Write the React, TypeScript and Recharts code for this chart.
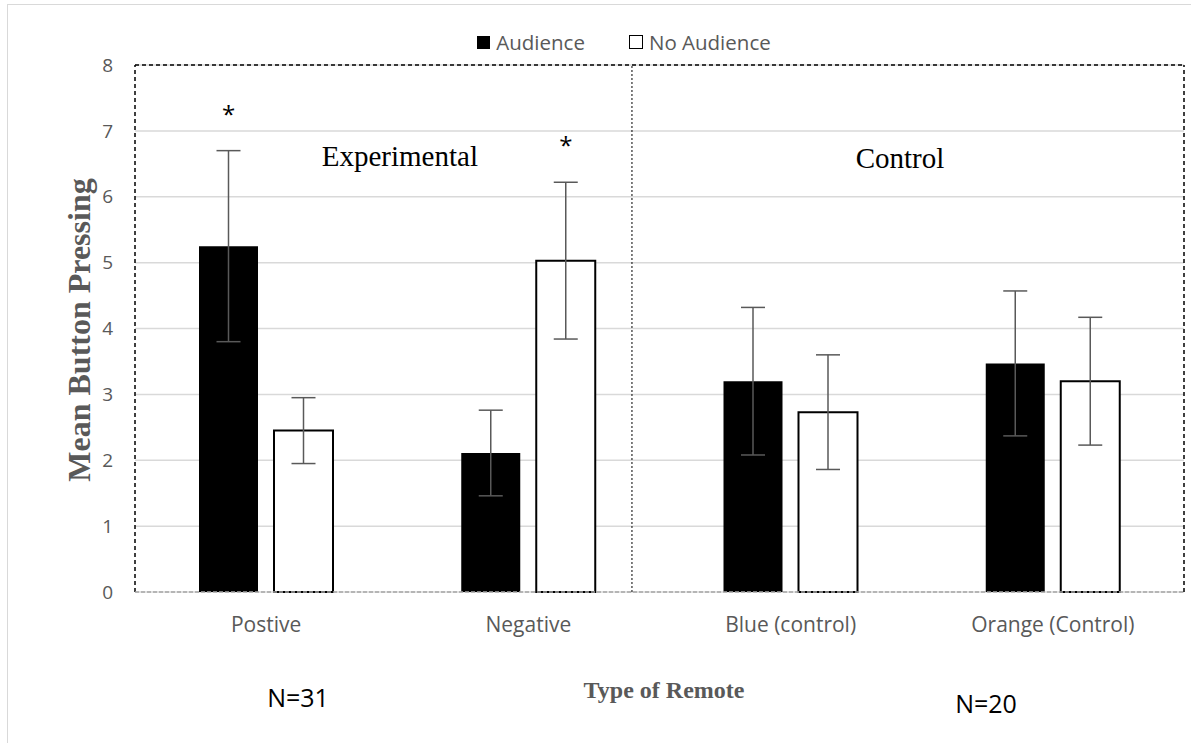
import { Bar, BarChart, CartesianGrid, ErrorBar, LabelList, Legend, ReferenceDot, ReferenceLine, XAxis, YAxis } from "recharts"

const remotes = ["Postive", "Negative", "Blue (control)", "Orange (Control)"]
const audience = [5.25, 2.11, 3.2, 3.47]
const audienceErr = [1.45, 0.65, 1.12, 1.1]
const noAudience = [2.45, 5.03, 2.73, 3.2]
const noAudienceErr = [0.5, 1.19, 0.87, 0.97]
const audienceSig = [true, false, false, false]
const noAudienceSig = [false, true, false, false]
const yTicks = [0, 1, 2, 3, 4, 5, 6, 7, 8]

const data = remotes.map((name, i) => ({
    name,
    audience: audience[i],
    audienceErr: audienceErr[i],
    noAudience: noAudience[i],
    noAudienceErr: noAudienceErr[i],
}))

const grey = "#595959"
const sans = "'Open Sans', 'Noto Sans', sans-serif"
const serif = "'Liberation Serif', 'DejaVu Serif', serif"

// star above the error bar of a significant bar
const makeStar = (values: number[], errs: number[], sig: boolean[]) => (props: any) => {
    const { x, y, width, height, index } = props
    if (!sig[index]) return null
    const perUnit = height / values[index]
    const top = y - errs[index] * perUnit
    return (
        <text x={x + width / 2} y={top - 28} textAnchor="middle" fontSize={24} fontFamily={sans} fill="#000">
            *
        </text>
    )
}

const legendContent = () => (
    <div style={{ display: "flex", justifyContent: "center", fontFamily: sans, fontSize: 20.5, color: grey, paddingLeft: 57 }}>
        <span style={{ display: "flex", alignItems: "center", marginRight: 44 }}>
            <span style={{ width: 13, height: 13, background: "#000", marginRight: 6 }} />
            Audience
        </span>
        <span style={{ display: "flex", alignItems: "center" }}>
            <span style={{ width: 12, height: 12, border: "1.5px solid #000", background: "#fff", marginRight: 6 }} />
            No Audience
        </span>
    </div>
)

const groupLabel = (text: string) => (props: any) => {
    const { viewBox } = props
    return (
        <text x={viewBox.x} y={viewBox.y} textAnchor="middle" fontSize={29} fontFamily={serif} fill="#000">
            {text}
        </text>
    )
}

export default function App() {
    return (
        <div style={{ position: "absolute", left: 0, top: 0, width: 1191, height: 743, overflow: "hidden", background: "#fff" }}>
            <div style={{ position: "absolute", left: 7, top: 4, width: 1190, height: 760, border: "1.5px solid #d9d9d9" }} />
            <div style={{ position: "absolute", left: 0, top: 0 }}>
                <BarChart width={1191} height={743} data={data} barGap={16} barSize={59} margin={{ top: 65, right: 7, bottom: 121, left: 75 }}>
                    <CartesianGrid vertical={false} stroke="#d9d9d9" strokeWidth={1.5} />
                    <XAxis dataKey="name" axisLine={false} tickLine={false} tickSize={0} tickMargin={25} height={30} tick={{ fill: grey, fontSize: 21, fontFamily: sans }} />
                    <XAxis xAxisId="frame" dataKey="frame" type="number" domain={[0, 4]} allowDataOverflow hide />
                    <YAxis domain={[0, 8]} ticks={yTicks} axisLine={false} tickLine={false} tickSize={0} tickMargin={22} width={60} tick={{ fill: grey, fontSize: 19, fontFamily: sans }} />
                    <Legend verticalAlign="middle" align="center" content={legendContent} wrapperStyle={{ top: 28, left: 0, width: 1191 }} />
                    <ReferenceLine y={8} stroke="#000" strokeDasharray="4 3" strokeWidth={1.5} />
                    <ReferenceLine xAxisId="frame" x={0} stroke="#000" strokeDasharray="4 3" strokeWidth={1.5} />
                    <ReferenceLine xAxisId="frame" x={4} stroke="#000" strokeDasharray="4 3" strokeWidth={1.5} />
                    <ReferenceLine xAxisId="frame" x={1.895} stroke="#000" strokeDasharray="2 2" strokeWidth={1} />
                    <ReferenceDot xAxisId="frame" x={1.01} y={6.47} r={0} fill="none" stroke="none" label={groupLabel("Experimental")} />
                    <ReferenceDot xAxisId="frame" x={2.917} y={6.44} r={0} fill="none" stroke="none" label={groupLabel("Control")} />
                    <Bar dataKey="audience" name="Audience" fill="#000" isAnimationActive={false}>
                        <ErrorBar dataKey="audienceErr" width={12} stroke={grey} strokeWidth={1.5} />
                        <LabelList dataKey="audience" content={makeStar(audience, audienceErr, audienceSig)} />
                    </Bar>
                    <Bar dataKey="noAudience" name="No Audience" fill="#fff" stroke="#000" strokeWidth={2} isAnimationActive={false}>
                        <ErrorBar dataKey="noAudienceErr" width={12} stroke={grey} strokeWidth={1.5} />
                        <LabelList dataKey="noAudience" content={makeStar(noAudience, noAudienceErr, noAudienceSig)} />
                    </Bar>
                    <ReferenceLine y={0} stroke="#a6a6a6" strokeDasharray="4 2" strokeWidth={1.5} />
                </BarChart>
            </div>
            <div style={{ position: "absolute", left: 79, top: 330, transform: "translate(-50%, -50%) rotate(-90deg)", whiteSpace: "nowrap", fontFamily: serif, fontWeight: "bold", fontSize: 32, color: grey }}>
                Mean Button Pressing
            </div>
            <div style={{ position: "absolute", left: 664, top: 690, transform: "translate(-50%, -50%)", whiteSpace: "nowrap", fontFamily: serif, fontWeight: "bold", fontSize: 24, color: grey }}>
                Type of Remote
            </div>
            <div style={{ position: "absolute", left: 298, top: 697, transform: "translate(-50%, -50%)", fontFamily: sans, fontSize: 25, color: "#000" }}>
                N=31
            </div>
            <div style={{ position: "absolute", left: 986, top: 703, transform: "translate(-50%, -50%)", fontFamily: sans, fontSize: 25, color: "#000" }}>
                N=20
            </div>
        </div>
    )
}
